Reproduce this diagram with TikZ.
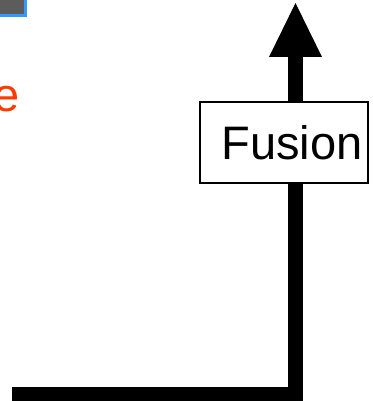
\documentclass[tikz,border=0pt]{standalone}
\usepackage{fontspec}
\setmainfont{Liberation Sans}
\usetikzlibrary{arrows.meta,calc}
\definecolor{tagorange}{HTML}{FF3A00}
\definecolor{tagblue}{HTML}{3399FF}
\definecolor{tilegray}{HTML}{5C5C5C}
\tikzset{
  flow/.style={line width=15pt, line join=miter, line cap=butt},
  labelbox/.style={draw, line width=1.5pt, fill=white, minimum width=168pt,
    minimum height=81pt, inner sep=0pt, font=\fontsize{47}{50}\selectfont},
}
\begin{document}
\begin{tikzpicture}[x=1pt,y=1pt]
  \useasboundingbox (0,0) rectangle (372,401);
  \begin{scope}
    \clip (0,0) rectangle (372,401);
    % corner tile, top left
    \fill[tagblue] (-20,384) rectangle (27,430);
    \fill[tilegray] (-20,387) rectangle (24,430);
    % trailing letter of the orange caption
    \node[anchor=base east, inner sep=0pt, text=tagorange,
      font=\fontsize{47}{50}\selectfont] (caption) at (19.5,289) {e};
    % flow line and arrow
    \coordinate (start) at (12,6.5);
    \coordinate (corner) at (295.5,6.5);
    \coordinate (tip) at (295.5,398);
    \node[labelbox] (fusion) at (284,258.5) {\hspace*{15.8pt}Fusion};
    \draw[flow] (start) -- (corner) -- (corner |- fusion.south);
    \draw[flow, -{Triangle[width=53pt,length=54pt,line width=0pt]}]
      (corner |- fusion.north) -- (tip);
  \end{scope}
\end{tikzpicture}
\end{document}
